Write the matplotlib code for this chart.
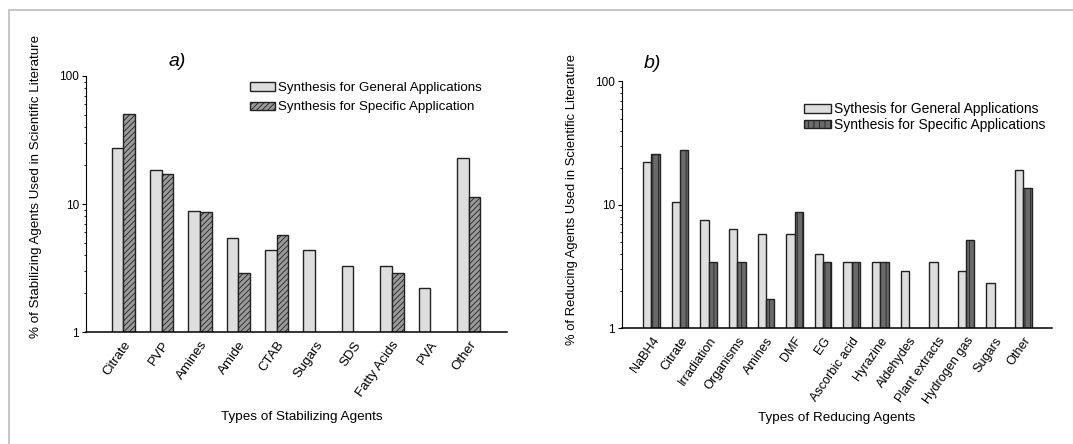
import matplotlib
matplotlib.use('Agg')
import matplotlib.pyplot as plt
import numpy as np
from matplotlib.patches import Rectangle
from matplotlib.ticker import LogLocator, NullFormatter, FixedLocator, FixedFormatter

plt.rcParams['font.family'] = ['Liberation Sans', 'DejaVu Sans']
plt.rcParams['hatch.linewidth'] = 0.6

# ---- panel a) stabilizing agents ----
stab_labels = ['Citrate', 'PVP', 'Amines', 'Amide', 'CTAB', 'Sugars', 'SDS',
               'Fatty Acids', 'PVA', 'Other']
stab_general = [27.2, 18.4, 8.8, 5.4, 4.4, 4.4, 3.3, 3.3, 2.2, 22.8]
stab_specific = [50.7, 17.1, 8.6, 2.9, 5.7, 0, 0, 2.9, 0, 11.4]

# ---- panel b) reducing agents ----
red_labels = ['NaBH4', 'Citrate', 'Irradiation', 'Organisms', 'Amines', 'DMF', 'EG',
              'Ascorbic acid', 'Hyrazine', 'Aldehydes', 'Plant extracts',
              'Hydrogen gas', 'Sugars', 'Other']
red_general = [22.1, 10.5, 7.5, 6.4, 5.75, 5.75, 4.0, 3.45, 3.45, 2.9, 3.45, 2.9, 2.3, 19.1]
red_specific = [25.8, 27.6, 3.45, 3.45, 1.73, 8.7, 3.45, 3.45, 3.45, 0, 0, 5.2, 0, 13.7]

fig = plt.figure(figsize=(10.73, 4.44), dpi=100)

# thin grey frame round the figure
fig.patches.append(Rectangle((9 / 1073, -0.1), 1.2, (444 - 10) / 444 + 0.1,
                             transform=fig.transFigure, fill=False,
                             edgecolor='#bdbdbd', linewidth=1.2))


def draw_panel(ax, labels, general, specific, width, xlim, spec_color, spec_hatch,
               leg_names, leg_loc, leg_size, leg_spacing, tick_size):
    x = np.arange(len(labels))
    gen = [v if v > 0 else np.nan for v in general]
    spe = [v if v > 0 else np.nan for v in specific]
    ax.bar(x - width / 2, gen, width, bottom=0, color='#dedede', edgecolor='#222222',
           linewidth=1.0, label=leg_names[0])
    ax.bar(x + width / 2, spe, width, bottom=0, color=spec_color, edgecolor='#222222',
           linewidth=1.0, hatch=spec_hatch, label=leg_names[1])
    ax.set_yscale('log')
    ax.set_ylim(1, 100)
    ax.set_xlim(*xlim)
    ax.yaxis.set_major_locator(FixedLocator([1, 10, 100]))
    ax.yaxis.set_major_formatter(FixedFormatter(['1', '10', '100']))
    ax.yaxis.set_minor_locator(LogLocator(base=10, subs=np.arange(2, 10)))
    ax.yaxis.set_minor_formatter(NullFormatter())
    ax.tick_params(axis='y', which='major', length=3, width=0.8, labelsize=8.5, pad=2)
    ax.tick_params(axis='y', which='minor', length=1.5, width=0.6)
    ax.set_xticks(x)
    ax.set_xticklabels(labels, rotation=55, ha='right', va='top',
                       rotation_mode='anchor', fontsize=tick_size)
    ax.tick_params(axis='x', length=0, pad=5)
    for s in ['top', 'right']:
        ax.spines[s].set_visible(False)
    ax.spines['left'].set_linewidth(0.8)
    ax.spines['bottom'].set_linewidth(1.1)
    leg = ax.legend(loc='upper left', bbox_to_anchor=leg_loc, frameon=False,
                    fontsize=leg_size, handlelength=1.9, handleheight=0.6,
                    handletextpad=0.25, labelspacing=leg_spacing, borderpad=0)
    return leg


ax1 = fig.add_axes([86 / 1073, 112 / 444, 421 / 1073, 256 / 444])
draw_panel(ax1, stab_labels, stab_general, stab_specific, 0.305, (-0.97, 10.0),
           '#9a9a9a', '//////',
           ['Synthesis for General Applications', 'Synthesis for Specific Application'],
           (0.373, 1.002), 9.6, 0.55, 9.5)
ax1.set_ylabel('% of Stabilizing Agents Used in Scientific Literature', fontsize=9.6)
ax1.yaxis.set_label_coords(-0.105, 0.57)
fig.text(302 / 1073, 1 - 417 / 444, 'Types of Stabilizing Agents', ha='center',
         va='center', fontsize=9.7)
fig.text(177 / 1073, 1 - 61 / 444, 'a)', ha='center', va='center', fontsize=14,
         style='italic')

ax2 = fig.add_axes([622 / 1073, 116 / 444, 430 / 1073, 246.5 / 444])
draw_panel(ax2, red_labels, red_general, red_specific, 0.29, (-1.03, 14.0),
           '#6a6a6a', '|||',
           ['Sythesis for General Applications', 'Synthesis for Specific Applications'],
           (0.408, 0.944), 10, 0.12, 9.1)
ax2.set_ylabel('% of Reducing Agents Used in Scientific Literature', fontsize=9.4)
ax2.yaxis.set_label_coords(-0.102, 0.52)
fig.text(837 / 1073, 1 - 418 / 444, 'Types of Reducing Agents', ha='center',
         va='center', fontsize=9.7)
fig.text(652 / 1073, 1 - 63 / 444, 'b)', ha='center', va='center', fontsize=14,
         style='italic')

fig.savefig('out.png', dpi=100, facecolor='white')
